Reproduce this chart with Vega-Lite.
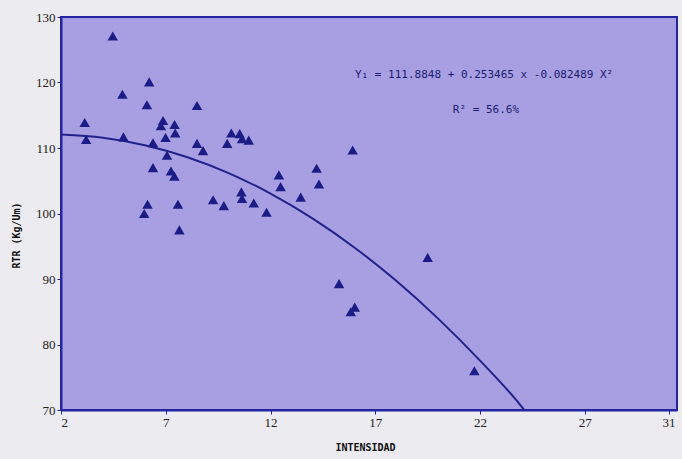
{
  "$schema": "https://vega.github.io/schema/vega-lite/v6.json",
  "autosize": "none",
  "width": 616,
  "height": 393,
  "padding": {"left": 61, "top": 17, "right": 5, "bottom": 49},
  "background": "#ecebef",
  "config": {
    "view": {"fill": "#a79fe2", "stroke": "#2424a0", "strokeWidth": 2},
    "axis": {
      "domainColor": "#2424a0", "domainWidth": 2, "tickColor": "#2424a0", "tickSize": 4,
      "labelFont": "Liberation Sans Narrow", "labelFontSize": 13, "labelColor": "#222",
      "titleFont": "DejaVu Sans Mono", "titleFontSize": 10, "titleFontWeight": "bold", "titleColor": "#111",
      "grid": false
    }
  },
  "datasets": {
    "pts": [
      {"x": 4.47, "y": 127.1}, {"x": 6.21, "y": 120.1}, {"x": 4.93, "y": 118.2}, {"x": 6.10, "y": 116.6},
      {"x": 8.49, "y": 116.5}, {"x": 3.13, "y": 113.9}, {"x": 6.87, "y": 114.2}, {"x": 6.77, "y": 113.4},
      {"x": 7.42, "y": 113.6}, {"x": 7.45, "y": 112.3}, {"x": 3.20, "y": 111.3}, {"x": 4.98, "y": 111.7},
      {"x": 6.99, "y": 111.6}, {"x": 6.39, "y": 110.8}, {"x": 8.49, "y": 110.7}, {"x": 8.78, "y": 109.6},
      {"x": 10.13, "y": 112.3}, {"x": 10.53, "y": 112.2}, {"x": 10.64, "y": 111.4}, {"x": 10.96, "y": 111.2},
      {"x": 9.93, "y": 110.7}, {"x": 7.06, "y": 108.9}, {"x": 6.39, "y": 107.0}, {"x": 7.25, "y": 106.5},
      {"x": 7.41, "y": 105.7}, {"x": 12.40, "y": 105.9}, {"x": 12.48, "y": 104.1}, {"x": 14.20, "y": 106.9},
      {"x": 14.31, "y": 104.5}, {"x": 10.61, "y": 103.3}, {"x": 10.64, "y": 102.3}, {"x": 9.26, "y": 102.1},
      {"x": 9.77, "y": 101.2}, {"x": 11.20, "y": 101.6}, {"x": 13.44, "y": 102.5}, {"x": 11.81, "y": 100.2},
      {"x": 6.13, "y": 101.4}, {"x": 5.97, "y": 100.0}, {"x": 7.58, "y": 101.4}, {"x": 7.65, "y": 97.5},
      {"x": 15.92, "y": 109.7}, {"x": 19.5, "y": 93.3}, {"x": 15.27, "y": 89.3}, {"x": 16.02, "y": 85.7},
      {"x": 15.83, "y": 85.0}, {"x": 21.73, "y": 76.0}
    ],
    "fit": [
      {"x": 2, "y": 112.06}, {"x": 4, "y": 111.58}, {"x": 6, "y": 110.43}, {"x": 8, "y": 108.63},
      {"x": 10, "y": 106.17}, {"x": 12, "y": 103.04}, {"x": 14, "y": 99.26}, {"x": 16, "y": 94.82},
      {"x": 18, "y": 89.72}, {"x": 20, "y": 83.95}, {"x": 22, "y": 77.54}, {"x": 24, "y": 70.45},
      {"x": 24.11, "y": 70.0}
    ],
    "labels": [
      {"x": 16.03, "y": 121.1, "t": "Y\u2081 = 111.8848 + 0.253465 x -0.082489 X\u00b2"},
      {"x": 20.7, "y": 115.8, "t": "R\u00b2 = 56.6%"}
    ]
  },
  "layer": [
    {
      "data": {"name": "fit"},
      "mark": {"type": "line", "color": "#22228a", "strokeWidth": 2, "interpolate": "monotone", "clip": true},
      "encoding": {
        "x": {"field": "x", "type": "quantitative", "scale": {"domain": [2, 31.4], "nice": false, "zero": false},
          "axis": {"values": [2, 7, 12, 17, 22, 27, 31], "title": "INTENSIDAD", "titleX": 304, "titleY": 32}},
        "y": {"field": "y", "type": "quantitative", "scale": {"domain": [70, 130], "nice": false, "zero": false},
          "axis": {"values": [70, 80, 90, 100, 110, 120, 130], "title": "RTR (Kg/Um)", "titleX": -40, "titleY": 218}}
      }
    },
    {
      "data": {"name": "pts"},
      "mark": {"type": "point", "shape": "triangle-up", "filled": true, "color": "#1c1c86", "opacity": 1, "size": 110},
      "encoding": {
        "x": {"field": "x", "type": "quantitative"},
        "y": {"field": "y", "type": "quantitative"}
      }
    },
    {
      "data": {"name": "labels"},
      "mark": {"type": "text", "align": "left", "baseline": "middle", "font": "DejaVu Sans Mono", "fontSize": 11, "color": "#1c1c70"},
      "encoding": {
        "x": {"field": "x", "type": "quantitative"},
        "y": {"field": "y", "type": "quantitative"},
        "text": {"field": "t"}
      }
    }
  ]
}
